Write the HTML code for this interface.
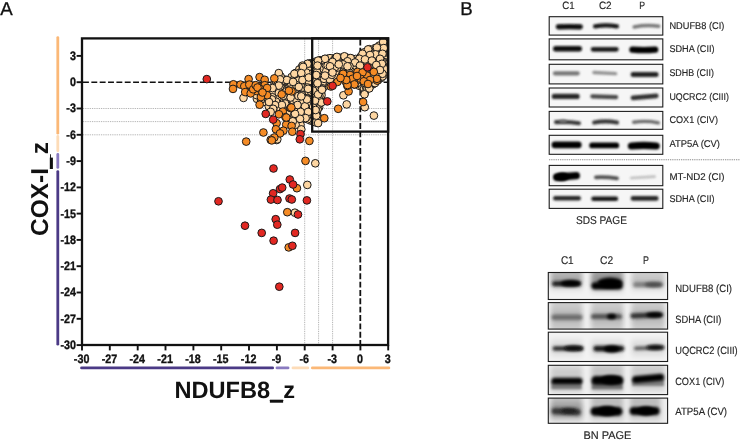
<!DOCTYPE html><html><head><meta charset="utf-8"><title>fig</title>
<style>html,body{margin:0;padding:0;background:#fff;}body{width:740px;height:440px;overflow:hidden;position:relative;font-family:"Liberation Sans",sans-serif;}svg{position:absolute;left:0;top:0;display:block;opacity:0.999}text{font-family:"Liberation Sans",sans-serif;text-rendering:geometricPrecision;}</style></head><body>
<svg width="740" height="440" viewBox="0 0 740 440">
<defs>
<filter id="b1" filterUnits="userSpaceOnUse" x="540" y="0" width="140" height="440"><feGaussianBlur stdDeviation="1.3"/></filter>
<filter id="b2" filterUnits="userSpaceOnUse" x="540" y="0" width="140" height="440"><feGaussianBlur stdDeviation="1.6"/></filter>
<filter id="bb" filterUnits="userSpaceOnUse" x="540" y="0" width="140" height="440"><feGaussianBlur stdDeviation="1.75"/></filter>
<filter id="bs" filterUnits="userSpaceOnUse" x="540" y="0" width="140" height="440"><feGaussianBlur stdDeviation="2.6 3.2"/></filter>
<filter id="b3" filterUnits="userSpaceOnUse" x="540" y="0" width="140" height="440"><feGaussianBlur stdDeviation="3.2"/></filter>
<clipPath id="plotclip"><rect x="82" y="38.4" width="306.1" height="306.6"/></clipPath>
</defs>
<rect width="740" height="440" fill="#ffffff"/>
<text x="0.2" y="15.4" font-size="18.7" fill="#111" stroke="#111" stroke-width="0.3">A</text>
<text x="460.3" y="15.4" font-size="18.7" fill="#111" stroke="#111" stroke-width="0.3">B</text>
<line x1="57.8" y1="37.6" x2="57.8" y2="133.2" stroke="#fbb877" stroke-width="2.8" stroke-linecap="round"/>
<line x1="57.8" y1="136.4" x2="57.8" y2="150.8" stroke="#fddcb8" stroke-width="2.8" stroke-linecap="round"/>
<line x1="57.8" y1="154.4" x2="57.8" y2="167.4" stroke="#8a7bc0" stroke-width="2.8" stroke-linecap="round"/>
<line x1="57.8" y1="171.6" x2="57.8" y2="344.2" stroke="#4b3a86" stroke-width="2.8" stroke-linecap="round"/>
<line x1="81.6" y1="367.9" x2="272.6" y2="367.9" stroke="#4b3a86" stroke-width="2.9" stroke-linecap="round"/>
<line x1="277" y1="367.9" x2="288" y2="367.9" stroke="#8a7bc0" stroke-width="2.9" stroke-linecap="round"/>
<line x1="293" y1="367.9" x2="307.8" y2="367.9" stroke="#fddcb8" stroke-width="2.9" stroke-linecap="round"/>
<line x1="312.4" y1="367.9" x2="388.8" y2="367.9" stroke="#fbb877" stroke-width="2.9" stroke-linecap="round"/>
<line x1="83" y1="108.5" x2="387" y2="108.5" stroke="#909090" stroke-width="0.75" stroke-dasharray="0.9 0.9"/>
<line x1="332.6" y1="39.5" x2="332.6" y2="344" stroke="#909090" stroke-width="0.75" stroke-dasharray="0.9 0.9"/>
<line x1="83" y1="121.6" x2="387" y2="121.6" stroke="#909090" stroke-width="0.75" stroke-dasharray="0.9 0.9"/>
<line x1="318.6" y1="39.5" x2="318.6" y2="344" stroke="#909090" stroke-width="0.75" stroke-dasharray="0.9 0.9"/>
<line x1="83" y1="134.8" x2="387" y2="134.8" stroke="#909090" stroke-width="0.75" stroke-dasharray="0.9 0.9"/>
<line x1="304.7" y1="39.5" x2="304.7" y2="344" stroke="#909090" stroke-width="0.75" stroke-dasharray="0.9 0.9"/>
<line x1="83" y1="82.2" x2="387" y2="82.2" stroke="#111" stroke-width="1.4" stroke-dasharray="5.9 2.45"/>
<line x1="360.3" y1="39.5" x2="360.3" y2="344" stroke="#111" stroke-width="1.8" stroke-dasharray="5.9 2.45"/>
<g clip-path="url(#plotclip)" stroke="#1a1a1a" stroke-width="1.0">
<g fill="#fdd6a2">
<circle cx="314.6" cy="71.1" r="3.85"/>
<circle cx="314.1" cy="94.5" r="3.85"/>
<circle cx="287.8" cy="115.2" r="3.85"/>
<circle cx="295.6" cy="73.0" r="3.85"/>
<circle cx="285.7" cy="113.1" r="3.85"/>
<circle cx="352.6" cy="73.4" r="3.85"/>
<circle cx="370.0" cy="83.7" r="3.85"/>
<circle cx="342.7" cy="66.0" r="3.85"/>
<circle cx="365.0" cy="62.0" r="3.85"/>
<circle cx="292.8" cy="108.0" r="3.85"/>
<circle cx="279.1" cy="98.4" r="3.85"/>
<circle cx="327.3" cy="72.5" r="3.85"/>
<circle cx="302.3" cy="98.6" r="3.85"/>
<circle cx="313.1" cy="113.2" r="3.85"/>
<circle cx="315.9" cy="86.8" r="3.85"/>
<circle cx="309.2" cy="75.7" r="3.85"/>
<circle cx="340.4" cy="67.9" r="3.85"/>
<circle cx="287.3" cy="118.1" r="3.85"/>
<circle cx="304.5" cy="88.5" r="3.85"/>
<circle cx="282.2" cy="111.0" r="3.85"/>
<circle cx="327.0" cy="82.3" r="3.85"/>
<circle cx="274.6" cy="104.7" r="3.85"/>
<circle cx="384.8" cy="74.6" r="3.85"/>
<circle cx="289.0" cy="93.7" r="3.85"/>
<circle cx="305.2" cy="67.9" r="3.85"/>
<circle cx="275.3" cy="93.2" r="3.85"/>
<circle cx="309.5" cy="70.2" r="3.85"/>
<circle cx="383.0" cy="64.3" r="3.85"/>
<circle cx="374.8" cy="60.7" r="3.85"/>
<circle cx="298.1" cy="124.8" r="3.85"/>
<circle cx="322.6" cy="65.5" r="3.85"/>
<circle cx="353.0" cy="70.1" r="3.85"/>
<circle cx="309.3" cy="113.2" r="3.85"/>
<circle cx="318.0" cy="84.6" r="3.85"/>
<circle cx="304.1" cy="82.5" r="3.85"/>
<circle cx="307.0" cy="76.0" r="3.85"/>
<circle cx="311.8" cy="76.4" r="3.85"/>
<circle cx="314.2" cy="100.5" r="3.85"/>
<circle cx="384.2" cy="52.7" r="3.85"/>
<circle cx="370.1" cy="55.5" r="3.85"/>
<circle cx="370.0" cy="60.7" r="3.85"/>
<circle cx="288.6" cy="98.6" r="3.85"/>
<circle cx="316.9" cy="111.9" r="3.85"/>
<circle cx="286.2" cy="99.2" r="3.85"/>
<circle cx="327.2" cy="68.4" r="3.85"/>
<circle cx="331.1" cy="60.3" r="3.85"/>
<circle cx="310.4" cy="67.8" r="3.85"/>
<circle cx="325.0" cy="59.0" r="3.85"/>
<circle cx="291.0" cy="91.8" r="3.85"/>
<circle cx="303.3" cy="117.1" r="3.85"/>
<circle cx="295.8" cy="95.9" r="3.85"/>
<circle cx="305.6" cy="98.7" r="3.85"/>
<circle cx="337.7" cy="71.1" r="3.85"/>
<circle cx="286.8" cy="107.8" r="3.85"/>
<circle cx="306.4" cy="87.3" r="3.85"/>
<circle cx="316.4" cy="77.9" r="3.85"/>
<circle cx="367.5" cy="80.8" r="3.85"/>
<circle cx="279.3" cy="78.2" r="3.85"/>
<circle cx="299.4" cy="111.7" r="3.85"/>
<circle cx="315.4" cy="83.6" r="3.85"/>
<circle cx="316.6" cy="120.5" r="3.85"/>
<circle cx="319.1" cy="78.7" r="3.85"/>
<circle cx="332.5" cy="68.6" r="3.85"/>
<circle cx="384.7" cy="56.1" r="3.85"/>
<circle cx="290.3" cy="121.4" r="3.85"/>
<circle cx="345.6" cy="57.3" r="3.85"/>
<circle cx="289.0" cy="85.5" r="3.85"/>
<circle cx="298.4" cy="122.1" r="3.85"/>
<circle cx="372.8" cy="71.3" r="3.85"/>
<circle cx="306.7" cy="111.4" r="3.85"/>
<circle cx="310.9" cy="71.9" r="3.85"/>
<circle cx="343.4" cy="57.2" r="3.85"/>
<circle cx="324.8" cy="69.2" r="3.85"/>
<circle cx="310.7" cy="120.6" r="3.85"/>
<circle cx="328.7" cy="70.8" r="3.85"/>
<circle cx="375.8" cy="77.7" r="3.85"/>
<circle cx="355.5" cy="61.4" r="3.85"/>
<circle cx="306.8" cy="106.4" r="3.85"/>
<circle cx="303.3" cy="114.9" r="3.85"/>
<circle cx="297.8" cy="98.2" r="3.85"/>
<circle cx="312.3" cy="69.5" r="3.85"/>
<circle cx="295.9" cy="75.4" r="3.85"/>
<circle cx="357.0" cy="80.6" r="3.85"/>
<circle cx="297.8" cy="114.1" r="3.85"/>
<circle cx="373.4" cy="62.6" r="3.85"/>
<circle cx="350.2" cy="79.2" r="3.85"/>
<circle cx="311.4" cy="81.2" r="3.85"/>
<circle cx="330.4" cy="76.9" r="3.85"/>
<circle cx="344.1" cy="71.7" r="3.85"/>
<circle cx="368.1" cy="59.3" r="3.85"/>
<circle cx="282.3" cy="87.6" r="3.85"/>
<circle cx="301.7" cy="82.5" r="3.85"/>
<circle cx="317.4" cy="115.5" r="3.85"/>
<circle cx="301.4" cy="72.5" r="3.85"/>
<circle cx="305.2" cy="74.8" r="3.85"/>
<circle cx="276.9" cy="108.5" r="3.85"/>
<circle cx="300.3" cy="86.4" r="3.85"/>
<circle cx="298.1" cy="86.1" r="3.85"/>
<circle cx="291.5" cy="114.1" r="3.85"/>
<circle cx="307.2" cy="96.3" r="3.85"/>
<circle cx="367.2" cy="56.3" r="3.85"/>
<circle cx="349.0" cy="58.1" r="3.85"/>
<circle cx="324.4" cy="84.0" r="3.85"/>
<circle cx="360.4" cy="76.2" r="3.85"/>
<circle cx="338.0" cy="76.3" r="3.85"/>
<circle cx="317.3" cy="91.9" r="3.85"/>
<circle cx="285.6" cy="115.3" r="3.85"/>
<circle cx="347.5" cy="74.7" r="3.85"/>
<circle cx="361.8" cy="79.1" r="3.85"/>
<circle cx="299.2" cy="83.8" r="3.85"/>
<circle cx="378.8" cy="52.9" r="3.85"/>
<circle cx="276.7" cy="83.1" r="3.85"/>
<circle cx="354.6" cy="82.0" r="3.85"/>
<circle cx="378.1" cy="68.0" r="3.85"/>
<circle cx="290.4" cy="116.4" r="3.85"/>
<circle cx="327.7" cy="58.7" r="3.85"/>
<circle cx="379.5" cy="56.8" r="3.85"/>
<circle cx="354.8" cy="74.3" r="3.85"/>
<circle cx="293.3" cy="82.9" r="3.85"/>
<circle cx="286.2" cy="84.5" r="3.85"/>
<circle cx="314.0" cy="65.2" r="3.85"/>
<circle cx="317.3" cy="95.1" r="3.85"/>
<circle cx="300.7" cy="117.2" r="3.85"/>
<circle cx="316.8" cy="103.0" r="3.85"/>
<circle cx="294.9" cy="102.2" r="3.85"/>
<circle cx="284.5" cy="87.5" r="3.85"/>
<circle cx="287.3" cy="104.7" r="3.85"/>
<circle cx="305.9" cy="114.4" r="3.85"/>
<circle cx="380.8" cy="71.0" r="3.85"/>
<circle cx="310.6" cy="86.6" r="3.85"/>
<circle cx="319.9" cy="81.9" r="3.85"/>
<circle cx="277.6" cy="94.9" r="3.85"/>
<circle cx="297.1" cy="106.7" r="3.85"/>
<circle cx="311.6" cy="115.2" r="3.85"/>
<circle cx="306.2" cy="65.9" r="3.85"/>
<circle cx="381.0" cy="78.0" r="3.85"/>
<circle cx="378.1" cy="59.9" r="3.85"/>
<circle cx="342.2" cy="63.7" r="3.85"/>
<circle cx="317.8" cy="122.8" r="3.85"/>
<circle cx="332.4" cy="58.4" r="3.85"/>
<circle cx="332.2" cy="78.8" r="3.85"/>
<circle cx="322.1" cy="62.8" r="3.85"/>
<circle cx="303.6" cy="110.2" r="3.85"/>
<circle cx="279.8" cy="96.1" r="3.85"/>
<circle cx="278.2" cy="103.0" r="3.85"/>
<circle cx="276.3" cy="88.2" r="3.85"/>
<circle cx="301.5" cy="67.5" r="3.85"/>
<circle cx="291.7" cy="106.1" r="3.85"/>
<circle cx="315.3" cy="117.4" r="3.85"/>
<circle cx="283.3" cy="85.1" r="3.85"/>
<circle cx="279.7" cy="101.0" r="3.85"/>
<circle cx="300.1" cy="98.9" r="3.85"/>
<circle cx="317.5" cy="64.1" r="3.85"/>
<circle cx="359.6" cy="83.2" r="3.85"/>
<circle cx="366.1" cy="53.7" r="3.85"/>
<circle cx="289.4" cy="105.6" r="3.85"/>
<circle cx="274.6" cy="83.5" r="3.85"/>
<circle cx="366.7" cy="70.2" r="3.85"/>
<circle cx="288.7" cy="91.4" r="3.85"/>
<circle cx="274.5" cy="96.8" r="3.85"/>
<circle cx="348.3" cy="61.6" r="3.85"/>
<circle cx="325.5" cy="62.0" r="3.85"/>
<circle cx="276.9" cy="77.9" r="3.85"/>
<circle cx="285.0" cy="106.0" r="3.85"/>
<circle cx="284.3" cy="110.2" r="3.85"/>
<circle cx="347.1" cy="69.0" r="3.85"/>
<circle cx="363.6" cy="69.0" r="3.85"/>
<circle cx="302.3" cy="75.3" r="3.85"/>
<circle cx="302.0" cy="90.3" r="3.85"/>
<circle cx="289.5" cy="103.4" r="3.85"/>
<circle cx="290.0" cy="80.2" r="3.85"/>
<circle cx="334.6" cy="73.5" r="3.85"/>
<circle cx="313.2" cy="73.4" r="3.85"/>
<circle cx="351.7" cy="58.6" r="3.85"/>
<circle cx="364.2" cy="85.2" r="3.85"/>
<circle cx="317.1" cy="75.8" r="3.85"/>
<circle cx="382.5" cy="66.5" r="3.85"/>
<circle cx="314.0" cy="77.1" r="3.85"/>
<circle cx="332.2" cy="71.1" r="3.85"/>
<circle cx="343.0" cy="61.3" r="3.85"/>
<circle cx="305.2" cy="95.4" r="3.85"/>
<circle cx="319.1" cy="107.3" r="3.85"/>
<circle cx="321.2" cy="98.0" r="3.85"/>
<circle cx="287.0" cy="110.3" r="3.85"/>
<circle cx="381.4" cy="46.4" r="3.85"/>
<circle cx="382.7" cy="73.6" r="3.85"/>
<circle cx="367.4" cy="84.7" r="3.85"/>
<circle cx="305.2" cy="72.4" r="3.85"/>
<circle cx="363.0" cy="57.0" r="3.85"/>
<circle cx="316.6" cy="100.7" r="3.85"/>
<circle cx="306.0" cy="78.1" r="3.85"/>
<circle cx="370.5" cy="81.3" r="3.85"/>
<circle cx="353.6" cy="80.1" r="3.85"/>
<circle cx="312.8" cy="88.1" r="3.85"/>
<circle cx="284.5" cy="93.2" r="3.85"/>
<circle cx="298.2" cy="73.1" r="3.85"/>
<circle cx="289.1" cy="83.1" r="3.85"/>
<circle cx="367.4" cy="51.7" r="3.85"/>
<circle cx="319.3" cy="71.8" r="3.85"/>
<circle cx="324.6" cy="74.0" r="3.85"/>
<circle cx="373.9" cy="80.2" r="3.85"/>
<circle cx="359.3" cy="85.8" r="3.85"/>
<circle cx="287.6" cy="81.6" r="3.85"/>
<circle cx="369.4" cy="71.3" r="3.85"/>
<circle cx="291.6" cy="101.9" r="3.85"/>
<circle cx="301.8" cy="111.8" r="3.85"/>
<circle cx="329.8" cy="68.8" r="3.85"/>
<circle cx="300.0" cy="120.0" r="3.85"/>
<circle cx="291.6" cy="110.7" r="3.85"/>
<circle cx="294.2" cy="111.3" r="3.85"/>
<circle cx="284.0" cy="98.1" r="3.85"/>
<circle cx="323.6" cy="76.0" r="3.85"/>
<circle cx="289.3" cy="119.5" r="3.85"/>
<circle cx="358.1" cy="64.6" r="3.85"/>
<circle cx="374.9" cy="54.0" r="3.85"/>
<circle cx="294.1" cy="117.0" r="3.85"/>
<circle cx="314.9" cy="91.8" r="3.85"/>
<circle cx="283.0" cy="113.3" r="3.85"/>
<circle cx="369.6" cy="52.6" r="3.85"/>
<circle cx="296.8" cy="116.3" r="3.85"/>
<circle cx="324.1" cy="81.1" r="3.85"/>
<circle cx="365.3" cy="64.2" r="3.85"/>
<circle cx="313.2" cy="98.5" r="3.85"/>
<circle cx="356.2" cy="72.2" r="3.85"/>
<circle cx="307.8" cy="84.1" r="3.85"/>
<circle cx="291.5" cy="119.5" r="3.85"/>
<circle cx="362.7" cy="53.9" r="3.85"/>
<circle cx="361.5" cy="84.5" r="3.85"/>
<circle cx="362.3" cy="86.6" r="3.85"/>
<circle cx="275.6" cy="91.0" r="3.85"/>
<circle cx="292.8" cy="94.2" r="3.85"/>
<circle cx="302.2" cy="104.9" r="3.85"/>
<circle cx="365.7" cy="67.2" r="3.85"/>
<circle cx="286.9" cy="96.6" r="3.85"/>
<circle cx="356.6" cy="67.8" r="3.85"/>
<circle cx="284.0" cy="100.7" r="3.85"/>
<circle cx="325.8" cy="76.0" r="3.85"/>
<circle cx="370.5" cy="78.2" r="3.85"/>
<circle cx="371.6" cy="66.7" r="3.85"/>
<circle cx="344.4" cy="59.2" r="3.85"/>
<circle cx="320.9" cy="90.2" r="3.85"/>
<circle cx="289.6" cy="96.7" r="3.85"/>
<circle cx="301.4" cy="77.5" r="3.85"/>
<circle cx="287.1" cy="88.7" r="3.85"/>
<circle cx="379.3" cy="62.1" r="3.85"/>
<circle cx="302.9" cy="96.2" r="3.85"/>
<circle cx="357.8" cy="62.5" r="3.85"/>
<circle cx="299.3" cy="69.5" r="3.85"/>
<circle cx="339.8" cy="70.0" r="3.85"/>
<circle cx="315.9" cy="89.5" r="3.85"/>
<circle cx="383.7" cy="50.0" r="3.85"/>
<circle cx="302.2" cy="84.7" r="3.85"/>
<circle cx="373.4" cy="50.4" r="3.85"/>
<circle cx="304.1" cy="112.3" r="3.85"/>
<circle cx="299.3" cy="77.8" r="3.85"/>
<circle cx="384.4" cy="46.1" r="3.85"/>
<circle cx="313.2" cy="118.2" r="3.85"/>
<circle cx="305.9" cy="70.3" r="3.85"/>
<circle cx="376.7" cy="74.1" r="3.85"/>
<circle cx="371.4" cy="69.0" r="3.85"/>
<circle cx="299.1" cy="109.5" r="3.85"/>
<circle cx="370.9" cy="74.0" r="3.85"/>
<circle cx="340.6" cy="58.1" r="3.85"/>
<circle cx="276.8" cy="97.2" r="3.85"/>
<circle cx="299.6" cy="91.0" r="3.85"/>
<circle cx="324.1" cy="86.8" r="3.85"/>
<circle cx="328.5" cy="75.6" r="3.85"/>
<circle cx="346.2" cy="77.5" r="3.85"/>
<circle cx="354.6" cy="64.5" r="3.85"/>
<circle cx="295.4" cy="108.1" r="3.85"/>
<circle cx="340.7" cy="61.1" r="3.85"/>
<circle cx="293.5" cy="124.0" r="3.85"/>
<circle cx="310.9" cy="97.4" r="3.85"/>
<circle cx="372.7" cy="84.4" r="3.85"/>
<circle cx="282.0" cy="93.9" r="3.85"/>
<circle cx="382.9" cy="69.6" r="3.85"/>
<circle cx="371.2" cy="62.6" r="3.85"/>
<circle cx="273.9" cy="87.0" r="3.85"/>
<circle cx="274.0" cy="102.6" r="3.85"/>
<circle cx="298.3" cy="88.8" r="3.85"/>
<circle cx="281.3" cy="108.7" r="3.85"/>
<circle cx="301.5" cy="102.7" r="3.85"/>
<circle cx="378.7" cy="78.2" r="3.85"/>
<circle cx="365.8" cy="57.9" r="3.85"/>
<circle cx="295.9" cy="86.4" r="3.85"/>
<circle cx="313.3" cy="121.3" r="3.85"/>
<circle cx="278.5" cy="88.0" r="3.85"/>
<circle cx="304.7" cy="91.8" r="3.85"/>
<circle cx="366.0" cy="74.3" r="3.85"/>
<circle cx="381.9" cy="57.6" r="3.85"/>
<circle cx="308.6" cy="108.1" r="3.85"/>
<circle cx="331.7" cy="66.5" r="3.85"/>
<circle cx="289.0" cy="111.0" r="3.85"/>
<circle cx="362.3" cy="73.7" r="3.85"/>
<circle cx="293.9" cy="87.2" r="3.85"/>
<circle cx="295.7" cy="118.7" r="3.85"/>
<circle cx="375.1" cy="72.5" r="3.85"/>
<circle cx="287.9" cy="100.9" r="3.85"/>
<circle cx="382.7" cy="54.8" r="3.85"/>
<circle cx="282.1" cy="78.8" r="3.85"/>
<circle cx="348.9" cy="76.3" r="3.85"/>
<circle cx="310.9" cy="83.9" r="3.85"/>
<circle cx="310.1" cy="106.5" r="3.85"/>
<circle cx="280.9" cy="89.8" r="3.85"/>
<circle cx="291.9" cy="97.3" r="3.85"/>
<circle cx="377.9" cy="80.3" r="3.85"/>
<circle cx="300.2" cy="106.1" r="3.85"/>
<circle cx="293.7" cy="75.6" r="3.85"/>
<circle cx="315.5" cy="104.8" r="3.85"/>
<circle cx="319.4" cy="75.8" r="3.85"/>
<circle cx="338.3" cy="62.3" r="3.85"/>
<circle cx="296.8" cy="77.4" r="3.85"/>
<circle cx="329.0" cy="81.4" r="3.85"/>
<circle cx="297.9" cy="119.1" r="3.85"/>
<circle cx="353.9" cy="76.4" r="3.85"/>
<circle cx="338.3" cy="57.4" r="3.85"/>
<circle cx="337.9" cy="65.4" r="3.85"/>
<circle cx="275.7" cy="80.8" r="3.85"/>
<circle cx="313.0" cy="82.9" r="3.85"/>
<circle cx="286.7" cy="93.5" r="3.85"/>
<circle cx="279.8" cy="111.5" r="3.85"/>
<circle cx="310.2" cy="99.9" r="3.85"/>
<circle cx="309.4" cy="118.1" r="3.85"/>
<circle cx="296.3" cy="90.8" r="3.85"/>
<circle cx="282.9" cy="107.3" r="3.85"/>
<circle cx="384.8" cy="59.4" r="3.85"/>
<circle cx="295.7" cy="104.6" r="3.85"/>
<circle cx="362.3" cy="71.1" r="3.85"/>
<circle cx="347.1" cy="72.2" r="3.85"/>
<circle cx="278.7" cy="75.2" r="3.85"/>
<circle cx="379.3" cy="45.6" r="3.85"/>
<circle cx="312.7" cy="67.3" r="3.85"/>
<circle cx="312.2" cy="101.4" r="3.85"/>
<circle cx="273.0" cy="90.4" r="3.85"/>
<circle cx="360.1" cy="68.8" r="3.85"/>
<circle cx="364.6" cy="52.2" r="3.85"/>
<circle cx="335.8" cy="64.9" r="3.85"/>
<circle cx="385.1" cy="42.5" r="3.85"/>
<circle cx="361.2" cy="58.9" r="3.85"/>
<circle cx="284.0" cy="81.4" r="3.85"/>
<circle cx="368.0" cy="73.4" r="3.85"/>
<circle cx="365.3" cy="91.1" r="3.85"/>
<circle cx="317.6" cy="118.1" r="3.85"/>
<circle cx="278.8" cy="83.8" r="3.85"/>
<circle cx="331.6" cy="62.4" r="3.85"/>
<circle cx="362.5" cy="62.5" r="3.85"/>
<circle cx="318.7" cy="61.9" r="3.85"/>
<circle cx="282.5" cy="102.3" r="3.85"/>
<circle cx="281.3" cy="105.4" r="3.85"/>
<circle cx="311.0" cy="74.1" r="3.85"/>
<circle cx="383.2" cy="44.0" r="3.85"/>
<circle cx="314.8" cy="96.8" r="3.85"/>
<circle cx="364.8" cy="55.8" r="3.85"/>
<circle cx="339.4" cy="73.8" r="3.85"/>
<circle cx="320.2" cy="65.3" r="3.85"/>
<circle cx="364.0" cy="88.9" r="3.85"/>
<circle cx="322.6" cy="68.8" r="3.85"/>
<circle cx="358.7" cy="59.0" r="3.85"/>
<circle cx="302.5" cy="69.9" r="3.85"/>
<circle cx="342.0" cy="71.1" r="3.85"/>
<circle cx="302.2" cy="92.6" r="3.85"/>
<circle cx="277.3" cy="86.1" r="3.85"/>
<circle cx="297.1" cy="81.2" r="3.85"/>
<circle cx="320.7" cy="101.6" r="3.85"/>
<circle cx="318.0" cy="66.7" r="3.85"/>
<circle cx="312.6" cy="85.7" r="3.85"/>
<circle cx="307.7" cy="69.0" r="3.85"/>
<circle cx="374.5" cy="82.6" r="3.85"/>
<circle cx="335.2" cy="69.8" r="3.85"/>
<circle cx="308.5" cy="73.6" r="3.85"/>
<circle cx="289.3" cy="87.9" r="3.85"/>
<circle cx="375.8" cy="67.6" r="3.85"/>
<circle cx="375.8" cy="58.6" r="3.85"/>
<circle cx="285.5" cy="79.8" r="3.85"/>
<circle cx="315.2" cy="67.7" r="3.85"/>
<circle cx="330.1" cy="72.6" r="3.85"/>
<circle cx="296.3" cy="84.0" r="3.85"/>
<circle cx="301.0" cy="114.8" r="3.85"/>
<circle cx="352.1" cy="64.8" r="3.85"/>
<circle cx="321.8" cy="77.3" r="3.85"/>
<circle cx="290.2" cy="108.5" r="3.85"/>
<circle cx="380.3" cy="64.4" r="3.85"/>
<circle cx="361.0" cy="64.1" r="3.85"/>
<circle cx="315.5" cy="73.9" r="3.85"/>
<circle cx="314.2" cy="110.7" r="3.85"/>
<circle cx="380.8" cy="50.5" r="3.85"/>
<circle cx="340.1" cy="64.5" r="3.85"/>
<circle cx="309.9" cy="63.3" r="3.85"/>
<circle cx="355.7" cy="59.0" r="3.85"/>
<circle cx="366.0" cy="86.8" r="3.85"/>
<circle cx="358.3" cy="77.1" r="3.85"/>
<circle cx="336.9" cy="73.7" r="3.85"/>
<circle cx="303.9" cy="108.1" r="3.85"/>
<circle cx="294.4" cy="98.2" r="3.85"/>
<circle cx="376.6" cy="69.7" r="3.85"/>
<circle cx="364.7" cy="93.2" r="3.85"/>
<circle cx="294.4" cy="89.4" r="3.85"/>
<circle cx="316.5" cy="98.5" r="3.85"/>
<circle cx="369.6" cy="75.8" r="3.85"/>
<circle cx="350.5" cy="67.6" r="3.85"/>
<circle cx="365.0" cy="76.7" r="3.85"/>
<circle cx="327.9" cy="60.9" r="3.85"/>
<circle cx="306.4" cy="89.8" r="3.85"/>
<circle cx="307.2" cy="100.5" r="3.85"/>
<circle cx="327.9" cy="77.7" r="3.85"/>
<circle cx="308.7" cy="94.5" r="3.85"/>
<circle cx="348.1" cy="78.5" r="3.85"/>
<circle cx="369.1" cy="67.3" r="3.85"/>
<circle cx="364.3" cy="72.4" r="3.85"/>
<circle cx="313.5" cy="80.3" r="3.85"/>
<circle cx="291.0" cy="99.6" r="3.85"/>
<circle cx="372.7" cy="60.2" r="3.85"/>
<circle cx="308.9" cy="115.6" r="3.85"/>
<circle cx="343.8" cy="69.3" r="3.85"/>
<circle cx="310.7" cy="88.9" r="3.85"/>
<circle cx="371.2" cy="50.4" r="3.85"/>
<circle cx="375.1" cy="48.1" r="3.85"/>
<circle cx="276.8" cy="105.3" r="3.85"/>
<circle cx="385.2" cy="48.1" r="3.85"/>
<circle cx="377.6" cy="65.5" r="3.85"/>
<circle cx="306.8" cy="104.2" r="3.85"/>
<circle cx="311.8" cy="105.0" r="3.85"/>
<circle cx="272.6" cy="95.1" r="3.85"/>
<circle cx="295.5" cy="121.0" r="3.85"/>
<circle cx="320.1" cy="60.2" r="3.85"/>
<circle cx="362.9" cy="82.3" r="3.85"/>
<circle cx="310.1" cy="65.5" r="3.85"/>
<circle cx="284.0" cy="90.5" r="3.85"/>
<circle cx="304.5" cy="102.8" r="3.85"/>
<circle cx="273.7" cy="100.3" r="3.85"/>
<circle cx="301.1" cy="79.6" r="3.85"/>
<circle cx="328.4" cy="63.1" r="3.85"/>
<circle cx="376.7" cy="61.8" r="3.85"/>
<circle cx="352.3" cy="78.0" r="3.85"/>
<circle cx="299.5" cy="103.8" r="3.85"/>
<circle cx="357.0" cy="75.1" r="3.85"/>
<circle cx="311.0" cy="94.3" r="3.85"/>
<circle cx="308.7" cy="98.2" r="3.85"/>
<circle cx="364.0" cy="79.3" r="3.85"/>
<circle cx="296.8" cy="111.7" r="3.85"/>
<circle cx="330.0" cy="58.2" r="3.85"/>
<circle cx="291.6" cy="77.0" r="3.85"/>
<circle cx="307.7" cy="64.0" r="3.85"/>
<circle cx="317.7" cy="109.0" r="3.85"/>
<circle cx="307.6" cy="119.3" r="3.85"/>
<circle cx="300.1" cy="75.6" r="3.85"/>
<circle cx="292.9" cy="104.0" r="3.85"/>
<circle cx="374.6" cy="64.6" r="3.85"/>
<circle cx="304.3" cy="105.6" r="3.85"/>
<circle cx="322.5" cy="85.3" r="3.85"/>
<circle cx="308.9" cy="103.7" r="3.85"/>
<circle cx="321.1" cy="93.1" r="3.85"/>
<circle cx="325.4" cy="64.3" r="3.85"/>
<circle cx="337.1" cy="59.9" r="3.85"/>
<circle cx="373.0" cy="75.8" r="3.85"/>
<circle cx="306.3" cy="93.4" r="3.85"/>
<circle cx="308.5" cy="91.5" r="3.85"/>
<circle cx="378.4" cy="49.0" r="3.85"/>
<circle cx="362.6" cy="76.7" r="3.85"/>
<circle cx="305.8" cy="109.4" r="3.85"/>
<circle cx="330.1" cy="64.8" r="3.85"/>
<circle cx="357.3" cy="83.0" r="3.85"/>
<circle cx="277.6" cy="90.2" r="3.85"/>
<circle cx="367.8" cy="61.9" r="3.85"/>
<circle cx="305.4" cy="84.7" r="3.85"/>
<circle cx="325.4" cy="66.7" r="3.85"/>
<circle cx="272.7" cy="92.6" r="3.85"/>
<circle cx="302.4" cy="88.0" r="3.85"/>
<circle cx="314.5" cy="62.2" r="3.85"/>
<circle cx="297.2" cy="93.5" r="3.85"/>
<circle cx="280.5" cy="80.3" r="3.85"/>
<circle cx="312.2" cy="109.5" r="3.85"/>
<circle cx="350.5" cy="62.0" r="3.85"/>
<circle cx="355.4" cy="70.0" r="3.85"/>
<circle cx="381.1" cy="52.8" r="3.85"/>
<circle cx="321.7" cy="79.8" r="3.85"/>
<circle cx="353.4" cy="67.3" r="3.85"/>
<circle cx="348.4" cy="64.7" r="3.85"/>
<circle cx="293.3" cy="100.4" r="3.85"/>
<circle cx="344.4" cy="63.9" r="3.85"/>
<circle cx="300.5" cy="124.8" r="3.85"/>
<circle cx="301.7" cy="107.7" r="3.85"/>
<circle cx="286.5" cy="91.3" r="3.85"/>
<circle cx="295.6" cy="124.7" r="3.85"/>
<circle cx="346.1" cy="61.3" r="3.85"/>
<circle cx="294.7" cy="78.4" r="3.85"/>
<circle cx="355.0" cy="78.3" r="3.85"/>
<circle cx="281.5" cy="98.3" r="3.85"/>
<circle cx="320.2" cy="85.0" r="3.85"/>
<circle cx="326.4" cy="79.5" r="3.85"/>
<circle cx="334.3" cy="59.7" r="3.85"/>
<circle cx="281.2" cy="82.4" r="3.85"/>
<circle cx="384.3" cy="72.2" r="3.85"/>
<circle cx="352.6" cy="62.6" r="3.85"/>
<circle cx="318.5" cy="104.4" r="3.85"/>
<circle cx="315.4" cy="114.1" r="3.85"/>
<circle cx="292.3" cy="80.6" r="3.85"/>
<circle cx="322.5" cy="82.8" r="3.85"/>
<circle cx="366.9" cy="78.2" r="3.85"/>
<circle cx="385.0" cy="66.0" r="3.85"/>
<circle cx="360.5" cy="56.8" r="3.85"/>
<circle cx="334.3" cy="77.4" r="3.85"/>
<circle cx="322.2" cy="72.8" r="3.85"/>
<circle cx="323.1" cy="60.1" r="3.85"/>
<circle cx="280.6" cy="76.4" r="3.85"/>
<circle cx="293.1" cy="91.7" r="3.85"/>
<circle cx="365.1" cy="83.2" r="3.85"/>
<circle cx="334.4" cy="62.5" r="3.85"/>
<circle cx="318.7" cy="89.5" r="3.85"/>
<circle cx="297.5" cy="102.2" r="3.85"/>
<circle cx="373.8" cy="69.0" r="3.85"/>
<circle cx="385.5" cy="62.4" r="3.85"/>
<circle cx="350.4" cy="71.0" r="3.85"/>
<circle cx="291.5" cy="87.1" r="3.85"/>
<circle cx="319.0" cy="87.1" r="3.85"/>
<circle cx="351.6" cy="75.7" r="3.85"/>
<circle cx="362.9" cy="65.9" r="3.85"/>
<circle cx="285.1" cy="103.6" r="3.85"/>
<circle cx="283.3" cy="95.8" r="3.85"/>
<circle cx="333.3" cy="64.7" r="3.85"/>
<circle cx="308.4" cy="67.0" r="3.85"/>
<circle cx="278.8" cy="93.0" r="3.85"/>
<circle cx="321.5" cy="95.2" r="3.85"/>
<circle cx="316.5" cy="61.4" r="3.85"/>
<circle cx="312.1" cy="63.9" r="3.85"/>
<circle cx="369.4" cy="49.2" r="3.85"/>
<circle cx="345.3" cy="67.6" r="3.85"/>
<circle cx="280.2" cy="86.4" r="3.85"/>
<circle cx="289.3" cy="113.2" r="3.85"/>
<circle cx="278.9" cy="109.5" r="3.85"/>
<circle cx="325.0" cy="71.4" r="3.85"/>
<circle cx="319.4" cy="96.0" r="3.85"/>
<circle cx="373.0" cy="78.3" r="3.85"/>
<circle cx="279.4" cy="107.0" r="3.85"/>
<circle cx="324.0" cy="78.8" r="3.85"/>
<circle cx="294.3" cy="114.6" r="3.85"/>
<circle cx="369.6" cy="87.2" r="3.85"/>
<circle cx="342.1" cy="74.8" r="3.85"/>
<circle cx="358.4" cy="70.9" r="3.85"/>
<circle cx="311.1" cy="91.6" r="3.85"/>
<circle cx="380.4" cy="67.8" r="3.85"/>
<circle cx="335.9" cy="58.0" r="3.85"/>
<circle cx="329.9" cy="79.5" r="3.85"/>
<circle cx="308.5" cy="86.2" r="3.85"/>
<circle cx="308.8" cy="82.0" r="3.85"/>
<circle cx="369.6" cy="64.6" r="3.85"/>
<circle cx="337.1" cy="67.7" r="3.85"/>
<circle cx="373.7" cy="56.9" r="3.85"/>
<circle cx="379.8" cy="76.0" r="3.85"/>
<circle cx="319.4" cy="68.7" r="3.85"/>
<circle cx="305.1" cy="118.4" r="3.85"/>
<circle cx="363.3" cy="59.5" r="3.85"/>
<circle cx="306.6" cy="82.0" r="3.85"/>
<circle cx="311.0" cy="78.9" r="3.85"/>
<circle cx="299.3" cy="80.9" r="3.85"/>
<circle cx="316.3" cy="107.2" r="3.85"/>
<circle cx="359.9" cy="61.6" r="3.85"/>
<circle cx="316.9" cy="69.5" r="3.85"/>
<circle cx="353.4" cy="60.6" r="3.85"/>
<circle cx="383.3" cy="62.1" r="3.85"/>
<circle cx="360.0" cy="66.3" r="3.85"/>
<circle cx="277.9" cy="81.2" r="3.85"/>
<circle cx="300.8" cy="94.6" r="3.85"/>
<circle cx="313.1" cy="90.6" r="3.85"/>
<circle cx="292.8" cy="121.3" r="3.85"/>
<circle cx="306.9" cy="116.8" r="3.85"/>
<circle cx="360.3" cy="73.0" r="3.85"/>
<circle cx="376.1" cy="50.8" r="3.85"/>
<circle cx="381.5" cy="60.8" r="3.85"/>
<circle cx="377.9" cy="71.6" r="3.85"/>
<circle cx="277.0" cy="99.6" r="3.85"/>
<circle cx="367.4" cy="88.5" r="3.85"/>
<circle cx="318.8" cy="99.4" r="3.85"/>
<circle cx="302.8" cy="100.8" r="3.85"/>
<circle cx="296.3" cy="99.9" r="3.85"/>
<circle cx="291.4" cy="84.1" r="3.85"/>
<circle cx="359.5" cy="79.7" r="3.85"/>
<circle cx="317.1" cy="72.3" r="3.85"/>
<circle cx="344.0" cy="76.6" r="3.85"/>
<circle cx="309.8" cy="110.7" r="3.85"/>
<circle cx="331.8" cy="74.8" r="3.85"/>
<circle cx="308.4" cy="88.3" r="3.85"/>
<circle cx="345.3" cy="74.5" r="3.85"/>
<circle cx="314.3" cy="102.7" r="3.85"/>
<circle cx="298.4" cy="96.0" r="3.85"/>
<circle cx="346.1" cy="65.6" r="3.85"/>
<circle cx="335.0" cy="67.1" r="3.85"/>
<circle cx="370.1" cy="58.4" r="3.85"/>
<circle cx="377.7" cy="55.5" r="3.85"/>
<circle cx="272.4" cy="97.3" r="3.85"/>
<circle cx="313.1" cy="107.0" r="3.85"/>
<circle cx="327.6" cy="65.5" r="3.85"/>
<circle cx="367.4" cy="65.2" r="3.85"/>
<circle cx="349.5" cy="73.1" r="3.85"/>
<circle cx="316.2" cy="81.4" r="3.85"/>
<circle cx="315.5" cy="122.4" r="3.85"/>
<circle cx="304.0" cy="79.1" r="3.85"/>
<circle cx="307.6" cy="79.8" r="3.85"/>
<circle cx="385.2" cy="69.3" r="3.85"/>
<circle cx="276.1" cy="101.7" r="3.85"/>
<circle cx="382.5" cy="76.4" r="3.85"/>
<circle cx="379.8" cy="73.6" r="3.85"/>
<circle cx="371.8" cy="53.8" r="3.85"/>
<circle cx="291.0" cy="89.4" r="3.85"/>
<circle cx="322.2" cy="88.2" r="3.85"/>
<circle cx="383.1" cy="41.9" r="3.85"/>
<circle cx="383.8" cy="48.1" r="3.85"/>
<circle cx="376.9" cy="47.5" r="3.85"/>
<circle cx="368.1" cy="49.4" r="3.85"/>
<circle cx="375.6" cy="54.4" r="3.85"/>
<circle cx="382.5" cy="53.8" r="3.85"/>
<circle cx="362.5" cy="53.8" r="3.85"/>
<circle cx="370.0" cy="55.0" r="3.85"/>
<circle cx="359.4" cy="58.8" r="3.85"/>
<circle cx="365.0" cy="59.4" r="3.85"/>
<circle cx="371.9" cy="60.6" r="3.85"/>
<circle cx="380.0" cy="58.8" r="3.85"/>
<circle cx="381.9" cy="63.8" r="3.85"/>
<circle cx="376.3" cy="65.0" r="3.85"/>
<circle cx="344.4" cy="56.3" r="3.85"/>
<circle cx="350.6" cy="58.1" r="3.85"/>
<circle cx="347.5" cy="61.3" r="3.85"/>
<circle cx="355.0" cy="62.5" r="3.85"/>
<circle cx="343.1" cy="64.4" r="3.85"/>
<circle cx="349.4" cy="66.3" r="3.85"/>
<circle cx="360.0" cy="65.6" r="3.85"/>
<circle cx="382.5" cy="73.8" r="3.85"/>
<circle cx="380.0" cy="70.0" r="3.85"/>
<circle cx="368.8" cy="87.5" r="3.85"/>
<circle cx="375.0" cy="83.1" r="3.85"/>
<circle cx="336.9" cy="56.9" r="3.85"/>
<circle cx="325.0" cy="58.8" r="3.85"/>
<circle cx="318.1" cy="60.6" r="3.85"/>
<circle cx="332.5" cy="61.9" r="3.85"/>
<circle cx="307.5" cy="63.8" r="3.85"/>
<circle cx="302.5" cy="65.6" r="3.85"/>
<circle cx="317.5" cy="65.6" r="3.85"/>
<circle cx="330.0" cy="66.3" r="3.85"/>
<circle cx="347.5" cy="66.3" r="3.85"/>
<circle cx="338.8" cy="64.4" r="3.85"/>
<circle cx="298.8" cy="73.1" r="3.85"/>
<circle cx="306.3" cy="72.5" r="3.85"/>
<circle cx="325.0" cy="75.6" r="3.85"/>
<circle cx="316.3" cy="75.0" r="3.85"/>
<circle cx="332.5" cy="72.5" r="3.85"/>
<circle cx="298.8" cy="80.6" r="3.85"/>
<circle cx="308.8" cy="81.3" r="3.85"/>
<circle cx="317.5" cy="83.1" r="3.85"/>
<circle cx="302.5" cy="87.5" r="3.85"/>
<circle cx="296.3" cy="85.0" r="3.85"/>
<circle cx="278.8" cy="73.1" r="3.85"/>
<circle cx="303.1" cy="66.9" r="3.85"/>
<circle cx="294.4" cy="73.8" r="3.85"/>
<circle cx="301.3" cy="73.1" r="3.85"/>
<circle cx="286.9" cy="80.0" r="3.85"/>
<circle cx="280.0" cy="79.4" r="3.85"/>
<circle cx="293.1" cy="81.9" r="3.85"/>
<circle cx="302.5" cy="80.0" r="3.85"/>
<circle cx="308.8" cy="77.5" r="3.85"/>
<circle cx="278.8" cy="85.6" r="3.85"/>
<circle cx="272.5" cy="88.1" r="3.85"/>
<circle cx="298.8" cy="86.9" r="3.85"/>
<circle cx="307.5" cy="87.5" r="3.85"/>
<circle cx="301.9" cy="95.0" r="3.85"/>
<circle cx="290.6" cy="97.5" r="3.85"/>
<circle cx="307.5" cy="98.8" r="3.85"/>
<circle cx="271.9" cy="99.4" r="3.85"/>
<circle cx="281.9" cy="105.0" r="3.85"/>
<circle cx="275.0" cy="105.0" r="3.85"/>
<circle cx="297.5" cy="105.0" r="3.85"/>
<circle cx="305.0" cy="106.3" r="3.85"/>
<circle cx="318.1" cy="123.1" r="3.85"/>
<circle cx="316.3" cy="115.6" r="3.85"/>
<circle cx="315.6" cy="110.0" r="3.85"/>
<circle cx="308.1" cy="111.9" r="3.85"/>
<circle cx="300.6" cy="111.9" r="3.85"/>
<circle cx="321.3" cy="102.5" r="3.85"/>
<circle cx="315.0" cy="100.6" r="3.85"/>
<circle cx="318.1" cy="94.4" r="3.85"/>
<circle cx="321.9" cy="89.4" r="3.85"/>
<circle cx="306.9" cy="99.4" r="3.85"/>
<circle cx="301.3" cy="96.3" r="3.85"/>
<circle cx="308.1" cy="88.8" r="3.85"/>
<circle cx="305.6" cy="118.1" r="3.85"/>
<circle cx="300.0" cy="118.8" r="3.85"/>
<circle cx="301.3" cy="129.4" r="3.85"/>
<circle cx="295.0" cy="113.8" r="3.85"/>
<circle cx="343.4" cy="95.3" r="3.85"/>
<circle cx="346.7" cy="104.4" r="3.85"/>
<circle cx="364.8" cy="107.2" r="3.85"/>
<circle cx="364.5" cy="94.3" r="3.85"/>
<circle cx="369.3" cy="88.4" r="3.85"/>
<circle cx="373.9" cy="115.6" r="3.85"/>
<circle cx="317.5" cy="83.2" r="3.85"/>
<circle cx="322.0" cy="89.7" r="3.85"/>
<circle cx="256.9" cy="98.8" r="3.85"/>
<circle cx="256.3" cy="95.0" r="3.85"/>
<circle cx="263.8" cy="101.9" r="3.85"/>
<circle cx="268.8" cy="106.3" r="3.85"/>
<circle cx="273.1" cy="108.8" r="3.85"/>
<circle cx="270.6" cy="111.9" r="3.85"/>
<circle cx="266.0" cy="98.5" r="3.85"/>
<circle cx="269.0" cy="102.0" r="3.85"/>
<circle cx="261.0" cy="99.5" r="3.85"/>
<circle cx="243.5" cy="97.9" r="3.85"/>
<circle cx="276.7" cy="140.0" r="3.85"/>
<circle cx="277.3" cy="139.3" r="3.85"/>
<circle cx="315.3" cy="163.3" r="3.85"/>
<circle cx="307.3" cy="184.9" r="3.85"/>
<circle cx="294.9" cy="212.7" r="3.85"/>
</g>
<g fill="#f58b25">
<circle cx="247.0" cy="89.5" r="3.85"/>
<circle cx="251.9" cy="88.8" r="3.85"/>
<circle cx="256.3" cy="91.0" r="3.85"/>
<circle cx="258.0" cy="86.2" r="3.85"/>
<circle cx="233.4" cy="84.3" r="3.85"/>
<circle cx="233.0" cy="88.9" r="3.85"/>
<circle cx="240.5" cy="84.6" r="3.85"/>
<circle cx="244.3" cy="86.2" r="3.85"/>
<circle cx="248.6" cy="79.1" r="3.85"/>
<circle cx="245.2" cy="92.1" r="3.85"/>
<circle cx="250.7" cy="93.4" r="3.85"/>
<circle cx="249.3" cy="84.6" r="3.85"/>
<circle cx="253.2" cy="89.3" r="3.85"/>
<circle cx="255.7" cy="85.2" r="3.85"/>
<circle cx="259.6" cy="77.1" r="3.85"/>
<circle cx="264.7" cy="79.8" r="3.85"/>
<circle cx="264.7" cy="85.2" r="3.85"/>
<circle cx="259.6" cy="88.6" r="3.85"/>
<circle cx="267.1" cy="88.0" r="3.85"/>
<circle cx="262.6" cy="92.7" r="3.85"/>
<circle cx="267.1" cy="95.2" r="3.85"/>
<circle cx="260.9" cy="97.1" r="3.85"/>
<circle cx="259.6" cy="104.7" r="3.85"/>
<circle cx="274.3" cy="78.4" r="3.85"/>
<circle cx="291.6" cy="91.4" r="3.85"/>
<circle cx="288.9" cy="90.7" r="3.85"/>
<circle cx="281.7" cy="94.4" r="3.85"/>
<circle cx="290.9" cy="107.7" r="3.85"/>
<circle cx="282.8" cy="111.6" r="3.85"/>
<circle cx="278.9" cy="114.3" r="3.85"/>
<circle cx="285.5" cy="117.2" r="3.85"/>
<circle cx="276.6" cy="123.2" r="3.85"/>
<circle cx="286.2" cy="124.6" r="3.85"/>
<circle cx="291.6" cy="125.9" r="3.85"/>
<circle cx="275.9" cy="129.3" r="3.85"/>
<circle cx="283.4" cy="130.7" r="3.85"/>
<circle cx="292.3" cy="131.7" r="3.85"/>
<circle cx="280.0" cy="133.4" r="3.85"/>
<circle cx="263.4" cy="132.5" r="3.85"/>
<circle cx="274.3" cy="137.5" r="3.85"/>
<circle cx="270.7" cy="139.8" r="3.85"/>
<circle cx="246.2" cy="141.6" r="3.85"/>
<circle cx="309.4" cy="140.9" r="3.85"/>
<circle cx="271.8" cy="140.4" r="3.85"/>
<circle cx="286.3" cy="117.5" r="3.85"/>
<circle cx="290.6" cy="108.1" r="3.85"/>
<circle cx="291.3" cy="107.5" r="3.85"/>
<circle cx="330.8" cy="86.5" r="3.85"/>
<circle cx="348.6" cy="91.4" r="3.85"/>
<circle cx="338.2" cy="108.8" r="3.85"/>
<circle cx="363.1" cy="102.0" r="3.85"/>
<circle cx="324.3" cy="118.2" r="3.85"/>
<circle cx="354.4" cy="84.5" r="3.85"/>
<circle cx="345.4" cy="81.3" r="3.85"/>
<circle cx="347.3" cy="85.8" r="3.85"/>
<circle cx="363.5" cy="80.6" r="3.85"/>
<circle cx="377.1" cy="80.6" r="3.85"/>
<circle cx="357.5" cy="71.9" r="3.85"/>
<circle cx="343.8" cy="73.8" r="3.85"/>
<circle cx="350.0" cy="75.0" r="3.85"/>
<circle cx="366.9" cy="75.6" r="3.85"/>
<circle cx="373.8" cy="71.9" r="3.85"/>
<circle cx="362.5" cy="72.5" r="3.85"/>
<circle cx="345.6" cy="79.4" r="3.85"/>
<circle cx="352.5" cy="78.8" r="3.85"/>
<circle cx="376.9" cy="78.8" r="3.85"/>
<circle cx="370.0" cy="80.0" r="3.85"/>
<circle cx="360.6" cy="78.8" r="3.85"/>
<circle cx="354.4" cy="84.4" r="3.85"/>
<circle cx="347.5" cy="85.0" r="3.85"/>
<circle cx="363.8" cy="81.3" r="3.85"/>
<circle cx="343.1" cy="73.8" r="3.85"/>
<circle cx="346.3" cy="80.0" r="3.85"/>
<circle cx="337.5" cy="81.9" r="3.85"/>
<circle cx="340.5" cy="78.0" r="3.85"/>
<circle cx="357.0" cy="76.0" r="3.85"/>
<circle cx="368.0" cy="84.0" r="3.85"/>
<circle cx="305.5" cy="160.9" r="3.85"/>
<circle cx="296.9" cy="188.2" r="3.85"/>
<circle cx="287.3" cy="212.2" r="3.85"/>
<circle cx="288.7" cy="247.4" r="3.85"/>
<circle cx="257.5" cy="87.5" r="3.85"/>
<circle cx="262.5" cy="92.5" r="3.85"/>
</g>
<g fill="#e22822">
<circle cx="206.8" cy="79.1" r="3.85"/>
<circle cx="265.7" cy="113.9" r="3.85"/>
<circle cx="273.2" cy="119.6" r="3.85"/>
<circle cx="300.5" cy="134.1" r="3.85"/>
<circle cx="299.8" cy="139.3" r="3.85"/>
<circle cx="332.6" cy="85.8" r="3.85"/>
<circle cx="327.3" cy="101.4" r="3.85"/>
<circle cx="367.5" cy="67.3" r="3.85"/>
<circle cx="273.5" cy="168.5" r="3.85"/>
<circle cx="289.8" cy="179.5" r="3.85"/>
<circle cx="293.1" cy="184.5" r="3.85"/>
<circle cx="280.0" cy="189.1" r="3.85"/>
<circle cx="282.2" cy="187.6" r="3.85"/>
<circle cx="273.1" cy="193.3" r="3.85"/>
<circle cx="270.9" cy="199.6" r="3.85"/>
<circle cx="277.5" cy="200.0" r="3.85"/>
<circle cx="289.5" cy="198.5" r="3.85"/>
<circle cx="291.8" cy="199.5" r="3.85"/>
<circle cx="306.9" cy="200.4" r="3.85"/>
<circle cx="218.5" cy="201.3" r="3.85"/>
<circle cx="298.0" cy="214.5" r="3.85"/>
<circle cx="275.7" cy="219.2" r="3.85"/>
<circle cx="277.3" cy="224.7" r="3.85"/>
<circle cx="245.0" cy="225.7" r="3.85"/>
<circle cx="261.7" cy="232.9" r="3.85"/>
<circle cx="295.1" cy="232.9" r="3.85"/>
<circle cx="273.6" cy="240.7" r="3.85"/>
<circle cx="292.4" cy="245.8" r="3.85"/>
<circle cx="279.3" cy="286.7" r="3.85"/>
</g>
</g>
<rect x="82" y="38.4" width="306.1" height="306.6" fill="none" stroke="#111" stroke-width="2.3"/>
<rect x="312.2" y="38.4" width="75.9" height="93.2" fill="none" stroke="#111" stroke-width="2.3"/>
<line x1="76.6" y1="55.9" x2="82" y2="55.9" stroke="#111" stroke-width="1.9"/>
<text transform="translate(75.9,59.8) scale(0.88,1)" text-anchor="end" font-size="12.2" font-weight="bold" fill="#111" stroke="#111" stroke-width="0.35">3</text>
<line x1="82.0" y1="345" x2="82.0" y2="350.4" stroke="#111" stroke-width="1.9"/>
<text transform="translate(81.6,363.1) scale(0.88,1)" text-anchor="middle" font-size="12.2" font-weight="bold" fill="#111" stroke="#111" stroke-width="0.35">-30</text>
<line x1="76.6" y1="82.2" x2="82" y2="82.2" stroke="#111" stroke-width="1.9"/>
<text transform="translate(75.9,86.1) scale(0.88,1)" text-anchor="end" font-size="12.2" font-weight="bold" fill="#111" stroke="#111" stroke-width="0.35">0</text>
<line x1="109.8" y1="345" x2="109.8" y2="350.4" stroke="#111" stroke-width="1.9"/>
<text transform="translate(109.4,363.1) scale(0.88,1)" text-anchor="middle" font-size="12.2" font-weight="bold" fill="#111" stroke="#111" stroke-width="0.35">-27</text>
<line x1="76.6" y1="108.5" x2="82" y2="108.5" stroke="#111" stroke-width="1.9"/>
<text transform="translate(75.9,112.4) scale(0.88,1)" text-anchor="end" font-size="12.2" font-weight="bold" fill="#111" stroke="#111" stroke-width="0.35">-3</text>
<line x1="137.7" y1="345" x2="137.7" y2="350.4" stroke="#111" stroke-width="1.9"/>
<text transform="translate(137.3,363.1) scale(0.88,1)" text-anchor="middle" font-size="12.2" font-weight="bold" fill="#111" stroke="#111" stroke-width="0.35">-24</text>
<line x1="76.6" y1="134.8" x2="82" y2="134.8" stroke="#111" stroke-width="1.9"/>
<text transform="translate(75.9,138.7) scale(0.88,1)" text-anchor="end" font-size="12.2" font-weight="bold" fill="#111" stroke="#111" stroke-width="0.35">-6</text>
<line x1="165.5" y1="345" x2="165.5" y2="350.4" stroke="#111" stroke-width="1.9"/>
<text transform="translate(165.1,363.1) scale(0.88,1)" text-anchor="middle" font-size="12.2" font-weight="bold" fill="#111" stroke="#111" stroke-width="0.35">-21</text>
<line x1="76.6" y1="161.1" x2="82" y2="161.1" stroke="#111" stroke-width="1.9"/>
<text transform="translate(75.9,165.0) scale(0.88,1)" text-anchor="end" font-size="12.2" font-weight="bold" fill="#111" stroke="#111" stroke-width="0.35">-9</text>
<line x1="193.4" y1="345" x2="193.4" y2="350.4" stroke="#111" stroke-width="1.9"/>
<text transform="translate(193.0,363.1) scale(0.88,1)" text-anchor="middle" font-size="12.2" font-weight="bold" fill="#111" stroke="#111" stroke-width="0.35">-18</text>
<line x1="76.6" y1="187.4" x2="82" y2="187.4" stroke="#111" stroke-width="1.9"/>
<text transform="translate(75.9,191.3) scale(0.88,1)" text-anchor="end" font-size="12.2" font-weight="bold" fill="#111" stroke="#111" stroke-width="0.35">-12</text>
<line x1="221.2" y1="345" x2="221.2" y2="350.4" stroke="#111" stroke-width="1.9"/>
<text transform="translate(220.8,363.1) scale(0.88,1)" text-anchor="middle" font-size="12.2" font-weight="bold" fill="#111" stroke="#111" stroke-width="0.35">-15</text>
<line x1="76.6" y1="213.6" x2="82" y2="213.6" stroke="#111" stroke-width="1.9"/>
<text transform="translate(75.9,217.5) scale(0.88,1)" text-anchor="end" font-size="12.2" font-weight="bold" fill="#111" stroke="#111" stroke-width="0.35">-15</text>
<line x1="249.0" y1="345" x2="249.0" y2="350.4" stroke="#111" stroke-width="1.9"/>
<text transform="translate(248.6,363.1) scale(0.88,1)" text-anchor="middle" font-size="12.2" font-weight="bold" fill="#111" stroke="#111" stroke-width="0.35">-12</text>
<line x1="76.6" y1="239.9" x2="82" y2="239.9" stroke="#111" stroke-width="1.9"/>
<text transform="translate(75.9,243.8) scale(0.88,1)" text-anchor="end" font-size="12.2" font-weight="bold" fill="#111" stroke="#111" stroke-width="0.35">-18</text>
<line x1="276.9" y1="345" x2="276.9" y2="350.4" stroke="#111" stroke-width="1.9"/>
<text transform="translate(276.5,363.1) scale(0.88,1)" text-anchor="middle" font-size="12.2" font-weight="bold" fill="#111" stroke="#111" stroke-width="0.35">-9</text>
<line x1="76.6" y1="266.2" x2="82" y2="266.2" stroke="#111" stroke-width="1.9"/>
<text transform="translate(75.9,270.1) scale(0.88,1)" text-anchor="end" font-size="12.2" font-weight="bold" fill="#111" stroke="#111" stroke-width="0.35">-21</text>
<line x1="304.7" y1="345" x2="304.7" y2="350.4" stroke="#111" stroke-width="1.9"/>
<text transform="translate(304.3,363.1) scale(0.88,1)" text-anchor="middle" font-size="12.2" font-weight="bold" fill="#111" stroke="#111" stroke-width="0.35">-6</text>
<line x1="76.6" y1="292.5" x2="82" y2="292.5" stroke="#111" stroke-width="1.9"/>
<text transform="translate(75.9,296.4) scale(0.88,1)" text-anchor="end" font-size="12.2" font-weight="bold" fill="#111" stroke="#111" stroke-width="0.35">-24</text>
<line x1="332.6" y1="345" x2="332.6" y2="350.4" stroke="#111" stroke-width="1.9"/>
<text transform="translate(332.2,363.1) scale(0.88,1)" text-anchor="middle" font-size="12.2" font-weight="bold" fill="#111" stroke="#111" stroke-width="0.35">-3</text>
<line x1="76.6" y1="318.8" x2="82" y2="318.8" stroke="#111" stroke-width="1.9"/>
<text transform="translate(75.9,322.7) scale(0.88,1)" text-anchor="end" font-size="12.2" font-weight="bold" fill="#111" stroke="#111" stroke-width="0.35">-27</text>
<line x1="360.4" y1="345" x2="360.4" y2="350.4" stroke="#111" stroke-width="1.9"/>
<text transform="translate(360.0,363.1) scale(0.88,1)" text-anchor="middle" font-size="12.2" font-weight="bold" fill="#111" stroke="#111" stroke-width="0.35">0</text>
<line x1="76.6" y1="345.1" x2="82" y2="345.1" stroke="#111" stroke-width="1.9"/>
<text transform="translate(75.9,349.0) scale(0.88,1)" text-anchor="end" font-size="12.2" font-weight="bold" fill="#111" stroke="#111" stroke-width="0.35">-30</text>
<line x1="388.2" y1="345" x2="388.2" y2="350.4" stroke="#111" stroke-width="1.9"/>
<text transform="translate(387.8,363.1) scale(0.88,1)" text-anchor="middle" font-size="12.2" font-weight="bold" fill="#111" stroke="#111" stroke-width="0.35">3</text>
<text x="174.4" y="398.1" font-size="23.6" font-weight="bold" fill="#111">NDUFB8_z</text>
<rect x="269.9" y="399.7" width="13.2" height="3.0" fill="#111"/>
<rect x="49.8" y="157.6" width="3.1" height="11.4" fill="#111"/>
<text transform="translate(48,236) rotate(-90)" font-size="24.5" font-weight="bold" fill="#111">COX-I_z</text>
<clipPath id="c1"><rect x="549.2" y="16.7" width="113.6" height="18.4"/></clipPath>
<g clip-path="url(#c1)">
<rect x="549.2" y="16.7" width="113.6" height="18.4" fill="#f6f6f6"/>
<path d="M558.4 26.9 Q569.3 26.3 580.2 26.91" fill="none" stroke="#080808" stroke-width="5.2" stroke-linecap="round" opacity="1" filter="url(#b1)"/>
<path d="M595.1 26.4 Q606.0 24.4 616.9 26.41" fill="none" stroke="#161616" stroke-width="4.3" stroke-linecap="round" opacity="1" filter="url(#b1)"/>
<path d="M634.1 27.0 Q646.4 24.6 658.7 26.21" fill="none" stroke="#606060" stroke-width="3.4" stroke-linecap="round" opacity="0.85" filter="url(#b1)"/>
</g>
<rect x="549.2" y="16.7" width="113.6" height="18.4" fill="none" stroke="#1c1c1c" stroke-width="1.1"/>
<clipPath id="c2"><rect x="549.2" y="38.9" width="113.6" height="20.9"/></clipPath>
<g clip-path="url(#c2)">
<rect x="549.2" y="38.9" width="113.6" height="20.9" fill="#f6f6f6"/>
<path d="M555.7 48.8 Q567.5 48.8 579.3 48.81" fill="none" stroke="#0c0c0c" stroke-width="5.4" stroke-linecap="round" opacity="1" filter="url(#b1)"/>
<path d="M593.1 49.3 Q604.7 49.3 616.3 49.31" fill="none" stroke="#1c1c1c" stroke-width="4.8" stroke-linecap="round" opacity="1" filter="url(#b1)"/>
<path d="M632.4 49.7 Q643.8 50.7 655.2 49.71" fill="none" stroke="#050505" stroke-width="6.2" stroke-linecap="round" opacity="1" filter="url(#b1)"/>
</g>
<rect x="549.2" y="38.9" width="113.6" height="20.9" fill="none" stroke="#1c1c1c" stroke-width="1.1"/>
<clipPath id="c3"><rect x="549.2" y="64.3" width="113.6" height="19.6"/></clipPath>
<g clip-path="url(#c3)">
<rect x="549.2" y="64.3" width="113.6" height="19.6" fill="#f6f6f6"/>
<path d="M554.9 73.3 Q566.3 73.3 577.7 73.31" fill="none" stroke="#606060" stroke-width="4.2" stroke-linecap="round" opacity="0.85" filter="url(#b1)"/>
<path d="M593.9 72.5 Q604.7 73.1 615.6 73.71" fill="none" stroke="#707070" stroke-width="3.3" stroke-linecap="round" opacity="0.75" filter="url(#b1)"/>
<path d="M633.1 74.6 Q644.6 74.6 656.1 74.61" fill="none" stroke="#202020" stroke-width="5.0" stroke-linecap="round" opacity="1" filter="url(#b1)"/>
</g>
<rect x="549.2" y="64.3" width="113.6" height="19.6" fill="none" stroke="#1c1c1c" stroke-width="1.1"/>
<clipPath id="c4"><rect x="549.2" y="88.0" width="113.6" height="19.0"/></clipPath>
<g clip-path="url(#c4)">
<rect x="549.2" y="88.0" width="113.6" height="19.0" fill="#f6f6f6"/>
<path d="M554.3 96.4 Q565.7 96.4 577.1 96.41" fill="none" stroke="#262626" stroke-width="5.2" stroke-linecap="round" opacity="1" filter="url(#b1)"/>
<path d="M592.3 96.3 Q604.2 96.7 616.1 97.11" fill="none" stroke="#484848" stroke-width="4.2" stroke-linecap="round" opacity="1" filter="url(#b1)"/>
<path d="M632.9 97.9 Q644.6 96.9 656.3 95.91" fill="none" stroke="#303030" stroke-width="4.6" stroke-linecap="round" opacity="1" filter="url(#b1)"/>
</g>
<rect x="549.2" y="88.0" width="113.6" height="19.0" fill="none" stroke="#1c1c1c" stroke-width="1.1"/>
<clipPath id="c5"><rect x="549.2" y="111.4" width="113.6" height="17.9"/></clipPath>
<g clip-path="url(#c5)">
<rect x="549.2" y="111.4" width="113.6" height="17.9" fill="#f6f6f6"/>
<path d="M556.1 122.2 Q567.5 121.5 578.9 123.21" fill="none" stroke="#383838" stroke-width="4.2" stroke-linecap="round" opacity="1" filter="url(#b1)"/>
<ellipse cx="563" cy="121.2" rx="4" ry="2" fill="#777" opacity="0.8" filter="url(#b1)"/>
<path d="M594.2 122.5 Q605.6 120.3 617.0 122.51" fill="none" stroke="#383838" stroke-width="4.2" stroke-linecap="round" opacity="1" filter="url(#b1)"/>
<path d="M633.7 122.2 Q646.0 120.3 658.3 122.81" fill="none" stroke="#505050" stroke-width="3.4" stroke-linecap="round" opacity="0.85" filter="url(#b1)"/>
</g>
<rect x="549.2" y="111.4" width="113.6" height="17.9" fill="none" stroke="#1c1c1c" stroke-width="1.1"/>
<clipPath id="c6"><rect x="549.2" y="135.3" width="113.6" height="19.0"/></clipPath>
<g clip-path="url(#c6)">
<rect x="549.2" y="135.3" width="113.6" height="19.0" fill="#f6f6f6"/>
<path d="M554.9 144.9 Q566.6 144.9 578.3 144.91" fill="none" stroke="#000" stroke-width="6.6" stroke-linecap="round" opacity="1" filter="url(#b1)"/>
<path d="M592.1 145.4 Q604.2 145.4 616.3 145.41" fill="none" stroke="#000" stroke-width="5.8" stroke-linecap="round" opacity="1" filter="url(#b1)"/>
<path d="M631.4 146.0 Q643.8 144.8 656.2 146.01" fill="none" stroke="#000" stroke-width="7.2" stroke-linecap="round" opacity="1" filter="url(#b1)"/>
</g>
<rect x="549.2" y="135.3" width="113.6" height="19.0" fill="none" stroke="#1c1c1c" stroke-width="1.1"/>
<clipPath id="c7"><rect x="549.2" y="165.4" width="113.6" height="20.3"/></clipPath>
<g clip-path="url(#c7)">
<rect x="549.2" y="165.4" width="113.6" height="20.3" fill="#f6f6f6"/>
<path d="M556.7 177.2 Q566.5 176.4 576.3 175.61" fill="none" stroke="#000" stroke-width="7.4" stroke-linecap="round" opacity="1" filter="url(#b1)"/>
<ellipse cx="562" cy="176.8" rx="7" ry="4.2" fill="#000" opacity="1" filter="url(#b1)"/>
<path d="M595.9 177.3 Q606.5 176.8 617.1 178.31" fill="none" stroke="#505050" stroke-width="3.7" stroke-linecap="round" opacity="1" filter="url(#b1)"/>
<path d="M631.2 178.0 Q642.9 177.3 654.6 176.61" fill="none" stroke="#b4b4b4" stroke-width="2.6" stroke-linecap="round" opacity="0.85" filter="url(#b1)"/>
</g>
<rect x="549.2" y="165.4" width="113.6" height="20.3" fill="none" stroke="#1c1c1c" stroke-width="1.1"/>
<clipPath id="c8"><rect x="549.2" y="189.2" width="113.6" height="19.2"/></clipPath>
<g clip-path="url(#c8)">
<rect x="549.2" y="189.2" width="113.6" height="19.2" fill="#f6f6f6"/>
<path d="M555.3 198.3 Q567.0 198.3 578.7 198.31" fill="none" stroke="#282828" stroke-width="4.6" stroke-linecap="round" opacity="1" filter="url(#b1)"/>
<path d="M593.5 198.7 Q604.7 198.7 615.9 198.71" fill="none" stroke="#181818" stroke-width="4.6" stroke-linecap="round" opacity="1" filter="url(#b1)"/>
<path d="M632.9 198.4 Q644.6 198.4 656.3 198.41" fill="none" stroke="#282828" stroke-width="4.6" stroke-linecap="round" opacity="1" filter="url(#b1)"/>
</g>
<rect x="549.2" y="189.2" width="113.6" height="19.2" fill="none" stroke="#1c1c1c" stroke-width="1.1"/>
<line x1="549" y1="159.8" x2="740" y2="159.8" stroke="#8c8c8c" stroke-width="1.1" stroke-dasharray="1.3 0.9"/>
<clipPath id="c9"><rect x="548.3" y="272.5" width="119.3" height="27.0"/></clipPath>
<g clip-path="url(#c9)">
<rect x="548.3" y="272.5" width="119.3" height="27.0" fill="#f3f3f3"/>
<rect x="550.8" y="268" width="31.4" height="17.0" fill="#000" opacity="0.24" filter="url(#bs)"/>
<rect x="591.2" y="268" width="32.0" height="18.0" fill="#000" opacity="0.32" filter="url(#bs)"/>
<rect x="631.5" y="268" width="33.0" height="18.0" fill="#000" opacity="0.15" filter="url(#bs)"/>
<rect x="550.8" y="276" width="31.4" height="14.0" fill="#000" opacity="0.1" filter="url(#bs)"/>
<rect x="591.2" y="276" width="32.0" height="16.0" fill="#000" opacity="0.14" filter="url(#bs)"/>
<rect x="631.5" y="278" width="33.0" height="13.0" fill="#000" opacity="0.08" filter="url(#bs)"/>
<path d="M554.6 283.8 Q566.6 283.8 578.6 283.81" fill="none" stroke="#1a1a1a" stroke-width="5.0" stroke-linecap="round" opacity="1" filter="url(#bb)"/>
<ellipse cx="570.5" cy="283.3" rx="10" ry="3.3" fill="#000" opacity="1" filter="url(#bb)"/>
<path d="M594.9 285.8 Q607.0 285.8 619.1 285.81" fill="none" stroke="#000" stroke-width="7.2" stroke-linecap="round" opacity="1" filter="url(#bb)"/>
<ellipse cx="610" cy="282.6" rx="12.5" ry="5.2" fill="#000" opacity="1" filter="url(#bb)"/>
<path d="M635.9 284.7 Q648.0 284.7 660.1 284.71" fill="none" stroke="#787878" stroke-width="5.2" stroke-linecap="round" opacity="0.9" filter="url(#bb)"/>
<ellipse cx="653.5" cy="284.6" rx="9" ry="2.6" fill="#404040" opacity="0.8" filter="url(#bb)"/>
</g>
<rect x="548.3" y="272.5" width="119.3" height="27.0" fill="none" stroke="#1c1c1c" stroke-width="1.1"/>
<clipPath id="c10"><rect x="548.3" y="302.6" width="119.3" height="26.5"/></clipPath>
<g clip-path="url(#c10)">
<rect x="548.3" y="302.6" width="119.3" height="26.5" fill="#f0f0f0"/>
<rect x="550.8" y="298" width="31.4" height="36.0" fill="#000" opacity="0.15" filter="url(#bs)"/>
<rect x="591.2" y="298" width="32.0" height="36.0" fill="#000" opacity="0.15" filter="url(#bs)"/>
<rect x="631.5" y="298" width="33.0" height="36.0" fill="#000" opacity="0.15" filter="url(#bs)"/>
<rect x="550.8" y="310" width="31.4" height="14.0" fill="#000" opacity="0.1" filter="url(#bs)"/>
<rect x="591.2" y="310" width="32.0" height="14.0" fill="#000" opacity="0.1" filter="url(#bs)"/>
<rect x="631.5" y="309" width="33.0" height="14.0" fill="#000" opacity="0.1" filter="url(#bs)"/>
<path d="M554.3 317.3 Q567.0 317.3 579.7 317.31" fill="none" stroke="#606060" stroke-width="5.6" stroke-linecap="round" opacity="0.85" filter="url(#bb)"/>
<path d="M593.6 316.5 Q606.5 316.5 619.4 316.51" fill="none" stroke="#484848" stroke-width="5.2" stroke-linecap="round" opacity="0.9" filter="url(#bb)"/>
<ellipse cx="611.6" cy="316.5" rx="4.6" ry="2.7" fill="#000" opacity="1" filter="url(#bb)"/>
<path d="M633.0 315.9 Q646.4 315.4 659.8 314.91" fill="none" stroke="#2c2c2c" stroke-width="5.2" stroke-linecap="round" opacity="0.95" filter="url(#bb)"/>
<ellipse cx="654.5" cy="314.8" rx="8.5" ry="2.6" fill="#000" opacity="1" filter="url(#bb)"/>
</g>
<rect x="548.3" y="302.6" width="119.3" height="26.5" fill="none" stroke="#1c1c1c" stroke-width="1.1"/>
<clipPath id="c11"><rect x="548.3" y="332.2" width="119.3" height="29.3"/></clipPath>
<g clip-path="url(#c11)">
<rect x="548.3" y="332.2" width="119.3" height="29.3" fill="#f3f3f3"/>
<rect x="550.8" y="340" width="31.4" height="16.0" fill="#000" opacity="0.09" filter="url(#bs)"/>
<rect x="591.2" y="340" width="32.0" height="16.0" fill="#000" opacity="0.09" filter="url(#bs)"/>
<rect x="631.5" y="340" width="33.0" height="16.0" fill="#000" opacity="0.09" filter="url(#bs)"/>
<path d="M554.8 348.5 Q568.0 348.5 581.2 348.51" fill="none" stroke="#2a2a2a" stroke-width="4.6" stroke-linecap="round" opacity="1" filter="url(#bb)"/>
<ellipse cx="573.5" cy="348.2" rx="9.5" ry="2.8" fill="#0a0a0a" opacity="1" filter="url(#bb)"/>
<path d="M596.1 348.6 Q608.8 348.6 621.5 348.61" fill="none" stroke="#161616" stroke-width="5.6" stroke-linecap="round" opacity="1" filter="url(#bb)"/>
<ellipse cx="611.8" cy="349.0" rx="8" ry="3.6" fill="#000" opacity="1" filter="url(#bb)"/>
<path d="M635.9 348.4 Q649.0 348.0 662.1 347.61" fill="none" stroke="#5a5a5a" stroke-width="3.8" stroke-linecap="round" opacity="1" filter="url(#bb)"/>
<ellipse cx="655.3" cy="347.4" rx="9" ry="2.7" fill="#101010" opacity="1" filter="url(#bb)"/>
</g>
<rect x="548.3" y="332.2" width="119.3" height="29.3" fill="none" stroke="#1c1c1c" stroke-width="1.1"/>
<clipPath id="c12"><rect x="548.3" y="365.3" width="119.3" height="29.3"/></clipPath>
<g clip-path="url(#c12)">
<rect x="548.3" y="365.3" width="119.3" height="29.3" fill="#f0f0f0"/>
<rect x="550.8" y="366" width="31.4" height="26.0" fill="#000" opacity="0.15" filter="url(#bs)"/>
<rect x="591.2" y="364" width="32.0" height="28.0" fill="#000" opacity="0.18" filter="url(#bs)"/>
<rect x="631.5" y="364" width="33.0" height="26.0" fill="#000" opacity="0.15" filter="url(#bs)"/>
<rect x="551.3" y="381" width="30.4" height="8.2" fill="#000" opacity="0.42" filter="url(#b1)"/>
<rect x="591.7" y="381" width="31.0" height="8.4" fill="#000" opacity="0.45" filter="url(#b1)"/>
<rect x="632.0" y="379" width="32.0" height="7.0" fill="#000" opacity="0.38" filter="url(#b1)"/>
<path d="M554.6 380.9 Q567.0 380.9 579.4 380.91" fill="none" stroke="#000" stroke-width="6.2" stroke-linecap="round" opacity="1" filter="url(#bb)"/>
<path d="M595.6 380.2 Q607.4 380.2 619.2 380.21" fill="none" stroke="#000" stroke-width="8.4" stroke-linecap="round" opacity="1" filter="url(#bb)"/>
<ellipse cx="611" cy="379.8" rx="10" ry="4.6" fill="#000" opacity="1" filter="url(#bb)"/>
<path d="M635.7 379.5 Q648.2 378.4 660.7 377.31" fill="none" stroke="#000" stroke-width="7.0" stroke-linecap="round" opacity="1" filter="url(#bb)"/>
</g>
<rect x="548.3" y="365.3" width="119.3" height="29.3" fill="none" stroke="#1c1c1c" stroke-width="1.1"/>
<clipPath id="c13"><rect x="548.3" y="398.1" width="119.3" height="25.2"/></clipPath>
<g clip-path="url(#c13)">
<rect x="548.3" y="398.1" width="119.3" height="25.2" fill="#ededed"/>
<rect x="550.8" y="394" width="31.4" height="25.0" fill="#000" opacity="0.2" filter="url(#bs)"/>
<rect x="591.2" y="394" width="32.0" height="25.0" fill="#000" opacity="0.2" filter="url(#bs)"/>
<rect x="630.0" y="394" width="30.5" height="25.0" fill="#000" opacity="0.2" filter="url(#bs)"/>
<rect x="550.8" y="404" width="31.4" height="13.0" fill="#000" opacity="0.22" filter="url(#bs)"/>
<path d="M554.9 411.1 Q566.2 411.6 577.5 412.11" fill="none" stroke="#303030" stroke-width="6.4" stroke-linecap="round" opacity="0.95" filter="url(#bb)"/>
<ellipse cx="569" cy="410.8" rx="8" ry="2.8" fill="#1a1a1a" opacity="0.9" filter="url(#bb)"/>
<path d="M594.8 411.4 Q606.5 411.4 618.2 411.41" fill="none" stroke="#000" stroke-width="8.6" stroke-linecap="round" opacity="1" filter="url(#bb)"/>
<ellipse cx="607" cy="411" rx="10" ry="5.0" fill="#000" opacity="1" filter="url(#bb)"/>
<path d="M633.6 411.1 Q644.6 411.1 655.6 411.11" fill="none" stroke="#000" stroke-width="8.0" stroke-linecap="round" opacity="1" filter="url(#bb)"/>
<ellipse cx="646" cy="411" rx="9" ry="4.4" fill="#000" opacity="1" filter="url(#bb)"/>
</g>
<rect x="548.3" y="398.1" width="119.3" height="25.2" fill="none" stroke="#1c1c1c" stroke-width="1.1"/>
<text x="562.2" y="8.7" font-size="10.6" textLength="12.4" lengthAdjust="spacingAndGlyphs" fill="#262626" stroke="#262626" stroke-width="0.15">C1</text>
<text x="598.9" y="8.7" font-size="10.6" textLength="12.7" lengthAdjust="spacingAndGlyphs" fill="#262626" stroke="#262626" stroke-width="0.15">C2</text>
<text x="639.3" y="8.7" font-size="10.6" textLength="5.8" lengthAdjust="spacingAndGlyphs" fill="#262626" stroke="#262626" stroke-width="0.15">P</text>
<text x="669.4" y="28.6" font-size="9.8" textLength="54.9" lengthAdjust="spacingAndGlyphs" fill="#262626" stroke="#262626" stroke-width="0.15">NDUFB8 (CI)</text>
<text x="669.4" y="52.0" font-size="9.8" textLength="45.1" lengthAdjust="spacingAndGlyphs" fill="#262626" stroke="#262626" stroke-width="0.15">SDHA (CII)</text>
<text x="669.4" y="75.9" font-size="9.8" textLength="44.5" lengthAdjust="spacingAndGlyphs" fill="#262626" stroke="#262626" stroke-width="0.15">SDHB (CII)</text>
<text x="669.4" y="100.2" font-size="9.8" textLength="59.5" lengthAdjust="spacingAndGlyphs" fill="#262626" stroke="#262626" stroke-width="0.15">UQCRC2 (CIII)</text>
<text x="669.4" y="122.5" font-size="9.8" textLength="48.6" lengthAdjust="spacingAndGlyphs" fill="#262626" stroke="#262626" stroke-width="0.15">COX1 (CIV)</text>
<text x="669.4" y="147" font-size="9.8" textLength="50.6" lengthAdjust="spacingAndGlyphs" fill="#262626" stroke="#262626" stroke-width="0.15">ATP5A (CV)</text>
<text x="669.4" y="179.5" font-size="9.8" textLength="55.1" lengthAdjust="spacingAndGlyphs" fill="#262626" stroke="#262626" stroke-width="0.15">MT-ND2 (CI)</text>
<text x="669.4" y="202" font-size="9.8" textLength="45.1" lengthAdjust="spacingAndGlyphs" fill="#262626" stroke="#262626" stroke-width="0.15">SDHA (CII)</text>
<text x="576" y="224.3" font-size="11.2" textLength="50.9" lengthAdjust="spacingAndGlyphs" fill="#262626" stroke="#262626" stroke-width="0.15">SDS PAGE</text>
<text x="560.9" y="264" font-size="11.2" textLength="12.8" lengthAdjust="spacingAndGlyphs" fill="#262626" stroke="#262626" stroke-width="0.15">C1</text>
<text x="600" y="264" font-size="11.2" textLength="13.1" lengthAdjust="spacingAndGlyphs" fill="#262626" stroke="#262626" stroke-width="0.15">C2</text>
<text x="642.9" y="264" font-size="11.2" textLength="5.9" lengthAdjust="spacingAndGlyphs" fill="#262626" stroke="#262626" stroke-width="0.15">P</text>
<text x="675.2" y="291.6" font-size="10.6" textLength="56.8" lengthAdjust="spacingAndGlyphs" fill="#262626" stroke="#262626" stroke-width="0.15">NDUFB8 (CI)</text>
<text x="675.2" y="323.3" font-size="10.6" textLength="46.2" lengthAdjust="spacingAndGlyphs" fill="#262626" stroke="#262626" stroke-width="0.15">SDHA (CII)</text>
<text x="675.2" y="354.2" font-size="10.6" textLength="62.5" lengthAdjust="spacingAndGlyphs" fill="#262626" stroke="#262626" stroke-width="0.15">UQCRC2 (CIII)</text>
<text x="675.2" y="384.9" font-size="10.6" textLength="49.2" lengthAdjust="spacingAndGlyphs" fill="#262626" stroke="#262626" stroke-width="0.15">COX1 (CIV)</text>
<text x="675.2" y="414.5" font-size="10.6" textLength="51.9" lengthAdjust="spacingAndGlyphs" fill="#262626" stroke="#262626" stroke-width="0.15">ATP5A (CV)</text>
<text x="583.5" y="439" font-size="11.2" textLength="47.8" lengthAdjust="spacingAndGlyphs" fill="#262626" stroke="#262626" stroke-width="0.15">BN PAGE</text>
</svg></body></html>
